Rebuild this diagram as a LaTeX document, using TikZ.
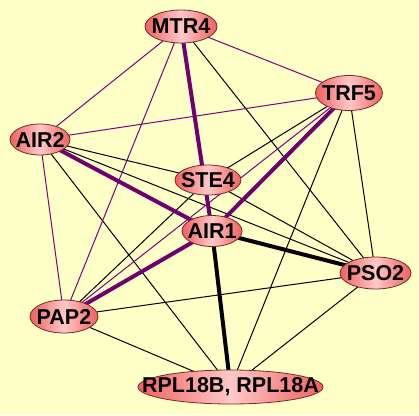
\documentclass[tikz,border=0pt]{standalone}
\usepackage{fontspec}
\setmainfont{Liberation Sans}
\usetikzlibrary{shapes.geometric}
\definecolor{bgc}{RGB}{255,255,200}
\definecolor{nodeedge}{RGB}{120,40,40}
\definecolor{nodeside}{RGB}{240,96,96}
\definecolor{nodemid}{RGB}{255,200,200}
\definecolor{purp}{RGB}{112,0,112}
\definecolor{purpthin}{RGB}{128,0,128}
\pgfdeclarelayer{bg}
\pgfdeclarelayer{paper}
\pgfsetlayers{paper,bg,main}
\tikzset{
  gene/.style={ellipse, draw=nodeedge, line width=0.8pt, inner sep=0pt,
    left color=nodeside, right color=nodeside, middle color=nodemid,
    label={[font=\fontsize{21.5}{21.5}\selectfont\bfseries, inner sep=0pt]center:#1}},
  thinp/.style={draw=purpthin, line width=1pt},
  thickp/.style={draw=purp, line width=4pt},
  thinb/.style={draw=black, line width=1pt},
  thickb/.style={draw=black, line width=4pt},
}
\begin{document}
\begin{tikzpicture}[x=1pt,y=-1pt]
\begin{pgfonlayer}{paper}
\fill[bgc] (0,0) rectangle (419,415);
\end{pgfonlayer}
\useasboundingbox (0,0) rectangle (419,415);
\node[gene=MTR4, minimum width=72pt, minimum height=33pt] (mtr4) at (181,26.5) {};
\node[gene=TRF5, minimum width=67pt, minimum height=35pt] (trf5) at (349,93) {};
\node[gene=AIR2, minimum width=60pt, minimum height=31pt] (air2) at (40,139.5) {};
\node[gene=STE4, minimum width=66pt, minimum height=30pt] (ste4) at (208,180) {};
\node[gene=AIR1, minimum width=60pt, minimum height=31pt] (air1) at (212,231) {};
\node[gene=PSO2, minimum width=71pt, minimum height=32pt] (pso2) at (375.5,273) {};
\node[gene=PAP2, minimum width=68pt, minimum height=33pt] (pap2) at (64,316.5) {};
\node[gene={RPL18B, RPL18A}, minimum width=185pt, minimum height=34pt] (rpl) at (230.5,387) {};
\begin{pgfonlayer}{bg}
% thin black
\draw[thinb] (mtr4.center) -- (pso2.center);
\draw[thinb] (air2.center) -- (ste4.center);
\draw[thinb] (air2.center) -- (pso2.center);
\draw[thinb] (air2.center) -- (rpl.center);
\draw[thinb] (trf5.center) -- (ste4.center);
\draw[thinb] (trf5.center) -- (pso2.center);
\draw[thinb] (trf5.center) -- (rpl.center);
\draw[thinb] (ste4.center) -- (pap2.center);
\draw[thinb] (ste4.center) -- (pso2.center);
\draw[thinb] (pap2.center) -- (pso2.center);
\draw[thinb] (pap2.center) -- (rpl.center);
\draw[thinb] (pso2.center) -- (rpl.center);
% thin purple
\draw[thinp] (mtr4.center) -- (air2.center);
\draw[thinp] (mtr4.center) -- (trf5.center);
\draw[thinp] (mtr4.center) -- (pap2.center);
\draw[thinp] (air2.center) -- (trf5.center);
\draw[thinp] (air2.center) -- (pap2.center);
\draw[thinp] (pap2.center) -- (trf5.center);
% thick
\draw[thickb] (air1.center) -- (pso2.center);
\draw[thickb] (air1.center) -- (rpl.center);
\draw[thickp] (mtr4.center) -- (air1.center);
\draw[thickp] (air2.center) -- (air1.center);
\draw[thickp] (trf5.center) -- (air1.center);
\draw[thickp] (pap2.center) -- (air1.center);
\end{pgfonlayer}
\end{tikzpicture}
\end{document}
